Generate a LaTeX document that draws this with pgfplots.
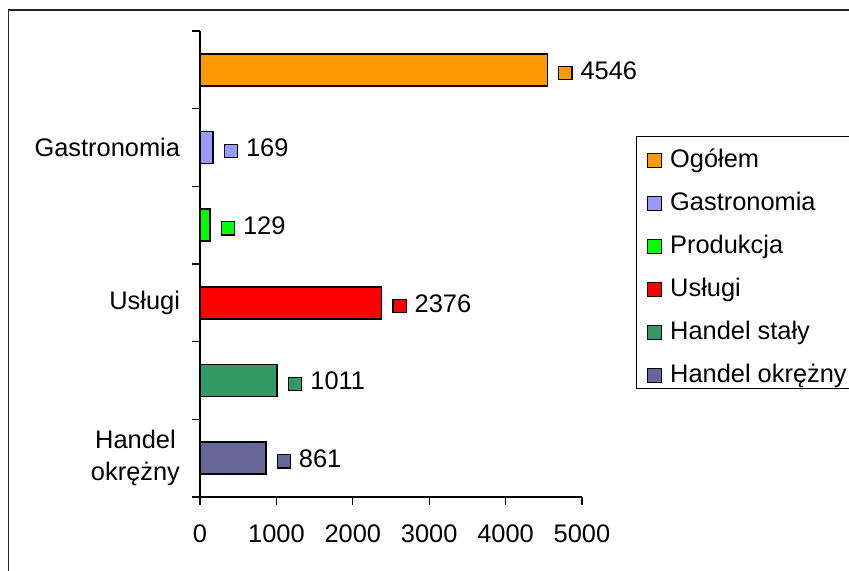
\documentclass[border=0pt]{standalone}
\usepackage{pgfplots}
\pgfplotsset{compat=1.18}
\usepackage{fontspec}
\setmainfont{Liberation Sans}
\definecolor{cOg}{HTML}{FF9900}
\definecolor{cGa}{HTML}{9999FF}
\definecolor{cPr}{HTML}{00FF00}
\definecolor{cUs}{HTML}{FF0000}
\definecolor{cHs}{HTML}{339966}
\definecolor{cHo}{HTML}{666699}
\setlength\fboxsep{0pt}
\setlength\fboxrule{0.6pt}
\newcommand{\sq}[1]{\fcolorbox{black}{#1}{\vrule width 0pt height 6pt\hspace{6pt}}}
\pgfplotsset{
  mylegend/.style={legend image code/.code={\draw[##1,line width=0.6pt] (0pt,0pt) rectangle (7.2pt,7.2pt);}},
  vlab/.style={nodes near coords={\sq{#1}\hspace{4pt}\pgfmathprintnumber{\pgfplotspointmeta}},
    every node near coord/.append style={anchor=west, inner sep=0pt, xshift=5pt, yshift=-0.5pt, text=black}},
}
\begin{document}
\begin{tikzpicture}[font=\fontsize{12.7}{15}\selectfont]
\useasboundingbox (0,0) rectangle (424.5pt,285.5pt);
\clip (0,0) rectangle (424.5pt,285.5pt);
\draw[line width=0.8pt, black!85] (4.2pt,-2pt) -- (4.2pt,280.5pt) -- (430pt,280.5pt);
\begin{axis}[
  at={(100pt,37pt)}, anchor=south west,
  scale only axis, width=191pt, height=233pt,
  xmin=0, xmax=5000, ymin=-0.5, ymax=5.5,
  axis x line=bottom, axis y line=left,
  axis line style={-, line width=0.6pt},
  tick style={black, line width=0.6pt},
  tick align=outside, major tick length=4pt,
  xtick={0,1000,2000,3000,4000,5000},
  xticklabel style={yshift=-6.5pt},
  ytick={-0.5,0.5,1.5,2.5,3.5,4.5,5.5},
  yticklabels={},
  extra y ticks={0,2,4},
  extra y tick labels={{Handel\\okrężny},Usługi,Gastronomia},
  extra y tick style={major tick length=0pt,
    yticklabel style={align=center, font=\fontsize{12.7}{16}\selectfont, xshift=-6.5pt}},
  /pgf/number format/1000 sep={},
  /pgf/number format/assume math mode=true,
  xbar, bar width=16pt, bar shift=0pt,
  point meta=x,
  every axis plot post/.append style={mylegend},
  legend style={at={(1.1414,0.7747)}, anchor=north west,
    draw=black, line width=0.6pt,
    inner xsep=5pt, inner ysep=1pt, row sep=5pt, column sep=4pt,
    cells={anchor=base west},
    nodes={inner sep=0pt, text height=14.5pt, text depth=2pt},
    font=\fontsize{12.7}{15}\selectfont},
]
\addplot[fill=cOg, draw=black, line width=0.8pt, vlab=cOg] coordinates {(4546,5)};
\addplot[fill=cGa, draw=black, line width=0.8pt, vlab=cGa] coordinates {(169,4)};
\addplot[fill=cPr, draw=black, line width=0.8pt, vlab=cPr] coordinates {(129,3)};
\addplot[fill=cUs, draw=black, line width=0.8pt, vlab=cUs] coordinates {(2376,2)};
\addplot[fill=cHs, draw=black, line width=0.8pt, vlab=cHs] coordinates {(1011,1)};
\addplot[fill=cHo, draw=black, line width=0.8pt, vlab=cHo] coordinates {(861,0)};
\legend{Ogółem, Gastronomia, Produkcja, Usługi, Handel stały, Handel okrężny\hspace{12pt}}
\end{axis}
\end{tikzpicture}
\end{document}
